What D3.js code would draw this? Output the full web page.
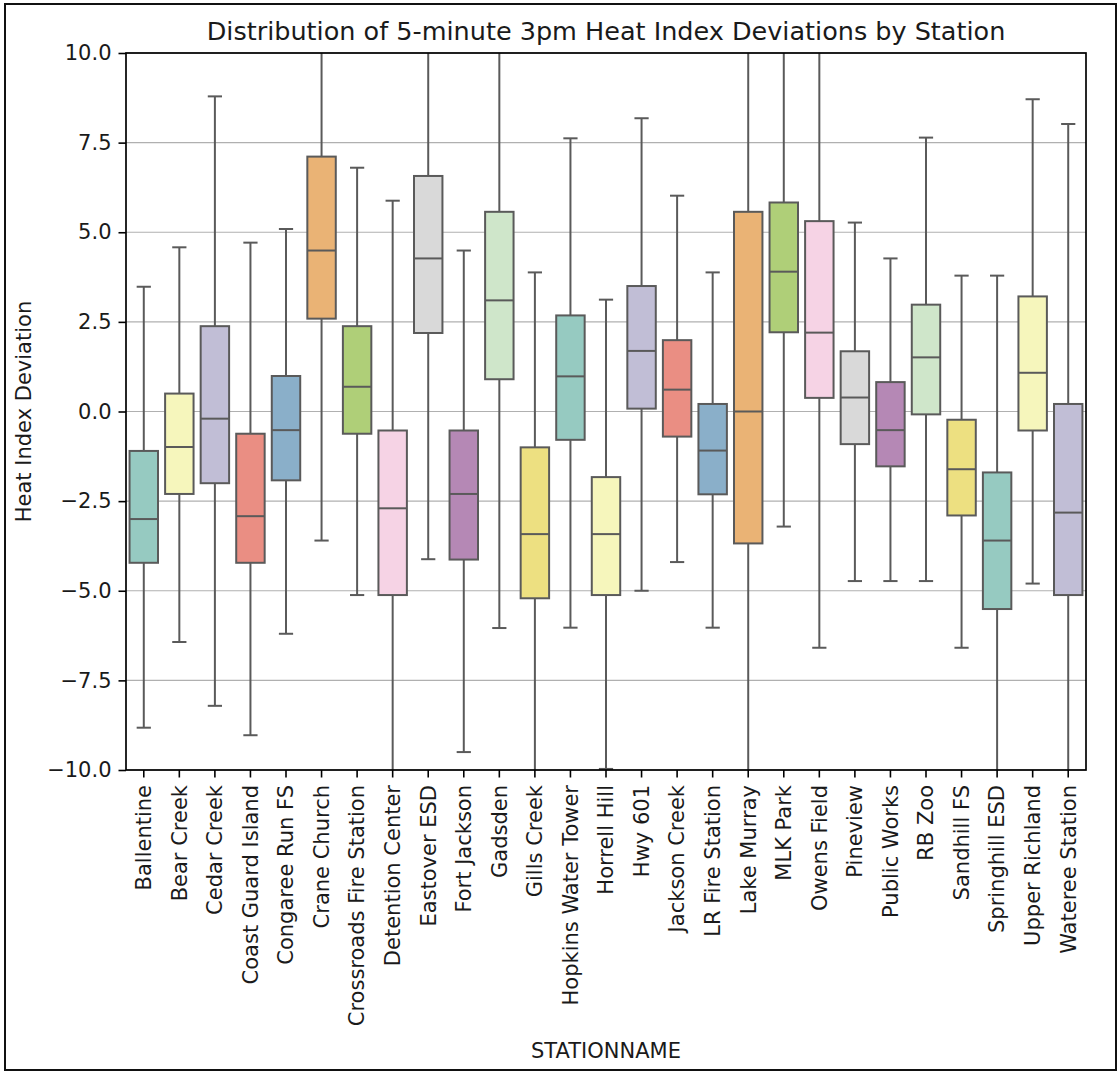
<!DOCTYPE html>
<html>
<head>
<meta charset="utf-8">
<script src="https://cdn.jsdelivr.net/npm/d3@7"></script>
<style>
  html, body { margin: 0; padding: 0; background: #fff; }
  svg { display: block; }
  text { font-family: "DejaVu Sans", sans-serif; }
</style>
</head>
<body>
<svg id="chart" width="1118" height="1073"></svg>
<script>
const stations = ["Ballentine","Bear Creek","Cedar Creek","Coast Guard Island","Congaree Run FS","Crane Church","Crossroads Fire Station","Detention Center","Eastover ESD","Fort Jackson","Gadsden","Gills Creek","Hopkins Water Tower","Horrell Hill","Hwy 601","Jackson Creek","LR Fire Station","Lake Murray","MLK Park","Owens Field","Pineview","Public Works","RB Zoo","Sandhill FS","Springhill ESD","Upper Richland","Wateree Station"];
const whisLow  = [-8.82,-6.43,-8.21,-9.03,-6.2,-3.6,-5.12,-12,-4.12,-9.5,-6.04,-12,-6.03,-9.97,-5.0,-4.2,-6.03,-12,-3.21,-6.59,-4.73,-4.73,-4.73,-6.59,-12,-4.80,-12];
const q1       = [-4.22,-2.30,-2.0,-4.22,-1.92,2.59,-0.62,-5.12,2.19,-4.13,0.9,-5.21,-0.79,-5.12,0.08,-0.70,-2.31,-3.68,2.21,0.38,-0.91,-1.53,-0.08,-2.9,-5.51,-0.53,-5.12];
const medians  = [-3.0,-0.99,-0.2,-2.92,-0.52,4.49,0.69,-2.7,4.27,-2.3,3.1,-3.42,0.98,-3.42,1.69,0.61,-1.09,0.0,3.9,2.2,0.39,-0.52,1.51,-1.61,-3.6,1.08,-2.82];
const q3       = [-1.1,0.5,2.38,-0.62,0.99,7.11,2.38,-0.53,6.57,-0.53,5.57,-1.0,2.68,-1.83,3.5,1.99,0.21,5.57,5.83,5.31,1.68,0.82,2.98,-0.23,-1.70,3.21,0.21];
const whisHigh = [3.48,4.58,8.79,4.71,5.09,12,6.8,5.88,12,4.49,12,3.88,7.62,3.12,8.18,6.02,3.88,12,12,12,5.27,4.27,7.64,3.79,3.79,8.71,8.02];
const yTicks = [-10,-7.5,-5,-2.5,0,2.5,5,7.5,10];
const palette = ["#8dd3c7","#ffffb3","#bebada","#fb8072","#80b1d3","#fdb462","#b3de69","#fccde5","#d9d9d9","#bc80bd","#ccebc5","#ffed6f"];

const title = "Distribution of 5-minute 3pm Heat Index Deviations by Station";
const xLabel = "STATIONNAME";
const yLabel = "Heat Index Deviation";

const svg = d3.select("#chart");
const W = 1118, H = 1073;
const m = {left: 126, right: 1086, top: 53, bottom: 770};
const edge = "#5a5a5a";

// figure frame
svg.append("rect").attr("x", 5).attr("y", 4).attr("width", 1111).attr("height", 1066)
  .attr("fill", "#fff").attr("stroke", "#111").attr("stroke-width", 2);

const x = d3.scaleBand().domain(stations).range([m.left, m.right]).paddingInner(0).paddingOuter(0);
const y = d3.scaleLinear().domain([-10, 10]).range([m.bottom, m.top]);

const desat = c => { const h = d3.hsl(c); h.s *= 0.75; return h.formatHex(); };
const color = (i) => desat(palette[i % palette.length]);

// grid
svg.append("g").selectAll("line").data(yTicks).join("line")
  .attr("x1", m.left).attr("x2", m.right)
  .attr("y1", d => y(d)).attr("y2", d => y(d))
  .attr("stroke", "#b0b0b0").attr("stroke-width", 1.1);

svg.append("defs").append("clipPath").attr("id", "clip")
  .append("rect").attr("x", m.left).attr("y", m.top).attr("width", m.right - m.left).attr("height", m.bottom - m.top);

const data = stations.map((s, i) => ({s, i, lo: whisLow[i], q1: q1[i], med: medians[i], q3: q3[i], hi: whisHigh[i]}));
const bw = x.bandwidth() * 0.8;
const capW = bw * 0.5;

const g = svg.append("g").attr("clip-path", "url(#clip)");
const box = g.selectAll("g.box").data(data).join("g").attr("class", "box");
const cx = d => x(d.s) + x.bandwidth() / 2;

// whiskers
box.append("line").attr("x1", cx).attr("x2", cx).attr("y1", d => y(d.q3)).attr("y2", d => y(d.hi))
  .attr("stroke", edge).attr("stroke-width", 2);
box.append("line").attr("x1", cx).attr("x2", cx).attr("y1", d => y(d.q1)).attr("y2", d => y(d.lo))
  .attr("stroke", edge).attr("stroke-width", 2);
// caps
box.append("line").attr("x1", d => cx(d) - capW / 2).attr("x2", d => cx(d) + capW / 2)
  .attr("y1", d => y(d.hi)).attr("y2", d => y(d.hi)).attr("stroke", edge).attr("stroke-width", 2);
box.append("line").attr("x1", d => cx(d) - capW / 2).attr("x2", d => cx(d) + capW / 2)
  .attr("y1", d => y(d.lo)).attr("y2", d => y(d.lo)).attr("stroke", edge).attr("stroke-width", 2);
// box
box.append("rect").attr("x", d => cx(d) - bw / 2).attr("width", bw)
  .attr("y", d => y(d.q3)).attr("height", d => y(d.q1) - y(d.q3))
  .attr("fill", d => color(d.i)).attr("stroke", edge).attr("stroke-width", 2);
// median
box.append("line").attr("x1", d => cx(d) - bw / 2).attr("x2", d => cx(d) + bw / 2)
  .attr("y1", d => y(d.med)).attr("y2", d => y(d.med)).attr("stroke", edge).attr("stroke-width", 2);

// axes
const fmt = d => d3.format(".1f")(d).replace("-", "\u2212");
const yAxis = svg.append("g").attr("transform", `translate(${m.left},0)`)
  .call(d3.axisLeft(y).tickValues(yTicks).tickFormat(fmt).tickSizeOuter(0).tickSize(7.5).tickPadding(7));
yAxis.select(".domain").remove();
yAxis.selectAll("line").attr("stroke", "#000").attr("stroke-width", 1.6);
yAxis.selectAll("text").attr("font-size", 21).attr("fill", "#1a1a1a").attr("font-family", "DejaVu Sans");

const xAxis = svg.append("g").attr("transform", `translate(0,${m.bottom})`)
  .call(d3.axisBottom(x).tickSizeOuter(0).tickSize(7.5));
xAxis.select(".domain").remove();
xAxis.selectAll("line").attr("stroke", "#000").attr("stroke-width", 1.6);
xAxis.selectAll("text")
  .attr("font-size", 21).attr("fill", "#1a1a1a").attr("font-family", "DejaVu Sans")
  .attr("text-anchor", "end").attr("dy", "0.35em")
  .attr("transform", "translate(0,15) rotate(-90)")
  .attr("x", 0).attr("y", 0);

// spines
svg.append("rect").attr("x", m.left).attr("y", m.top).attr("width", m.right - m.left).attr("height", m.bottom - m.top)
  .attr("fill", "none").attr("stroke", "#000").attr("stroke-width", 1.7);

// labels
svg.append("text").attr("x", (m.left + m.right) / 2).attr("y", 40).attr("text-anchor", "middle")
  .attr("font-size", 25.5).attr("fill", "#1a1a1a").text(title);
svg.append("text").attr("x", (m.left + m.right) / 2).attr("y", 1058).attr("text-anchor", "middle")
  .attr("font-size", 21).attr("fill", "#1a1a1a").text(xLabel);
svg.append("text").attr("transform", `translate(31,${(m.top + m.bottom) / 2}) rotate(-90)`).attr("text-anchor", "middle")
  .attr("font-size", 21).attr("fill", "#1a1a1a").text(yLabel);
</script>
</body>
</html>
